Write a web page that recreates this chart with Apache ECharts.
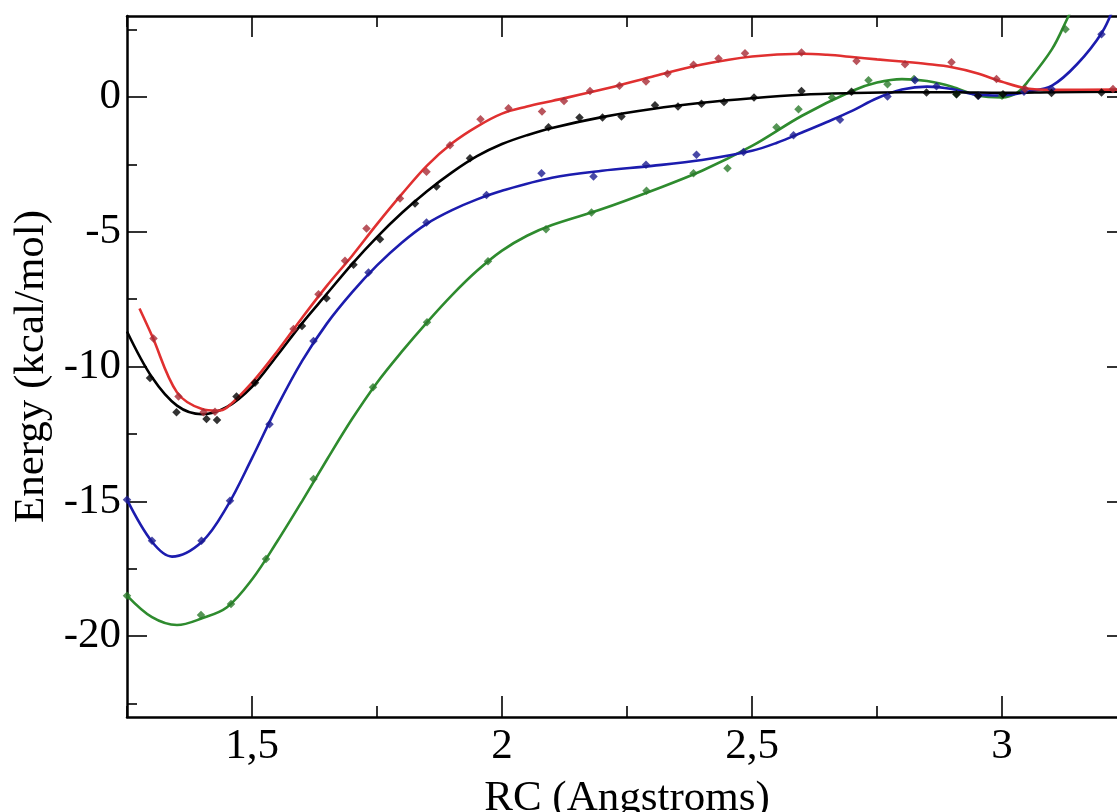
<!DOCTYPE html>
<html>
<head>
<meta charset="utf-8">
<script src="https://cdn.jsdelivr.net/npm/echarts@6/dist/echarts.min.js"></script>
<style>html,body{margin:0;padding:0;background:#fff;}#c{width:1117px;height:812px;}</style>
</head>
<body>
<div id="c"></div>
<script>
// ---- data ----
const xMajorTicks = [1.5, 2, 2.5, 3];
const xMinorTicks = [1.25, 1.75, 2.25, 2.75, 3.25];
const yMajorTicks = [-20, -15, -10, -5, 0];
const yMinorTicks = [-22.5, -17.5, -12.5, -7.5, -2.5, 2.5];

// fitted curves [RC, energy]
const blackCurve = [[1.25,-8.7],[1.30,-10.4],[1.35,-11.45],[1.40,-11.77],[1.45,-11.5],[1.50,-10.75],[1.55,-9.6],[1.60,-8.4],[1.65,-7.3],[1.70,-6.2],[1.75,-5.2],[1.80,-4.3],[1.85,-3.5],[1.90,-2.8],[1.95,-2.2],[2.00,-1.75],[2.05,-1.42],[2.10,-1.15],[2.20,-0.75],[2.30,-0.45],[2.40,-0.22],[2.50,-0.05],[2.60,0.08],[2.70,0.14],[2.80,0.17],[2.90,0.17],[3.00,0.15],[3.10,0.17],[3.25,0.2]];
const redCurve = [[1.275,-7.85],[1.30,-8.86],[1.35,-10.96],[1.40,-11.58],[1.43,-11.64],[1.45,-11.52],[1.50,-10.6],[1.55,-9.45],[1.60,-8.2],[1.65,-7.0],[1.70,-5.9],[1.75,-4.72],[1.80,-3.6],[1.85,-2.55],[1.90,-1.72],[1.95,-1.1],[2.00,-0.62],[2.05,-0.36],[2.10,-0.15],[2.20,0.27],[2.30,0.75],[2.40,1.2],[2.50,1.5],[2.60,1.6],[2.65,1.56],[2.70,1.48],[2.75,1.39],[2.80,1.31],[2.85,1.22],[2.90,1.1],[2.95,0.88],[3.00,0.56],[3.05,0.31],[3.10,0.26],[3.25,0.27]];
const blueCurve = [[1.25,-14.94],[1.30,-16.5],[1.34,-17.05],[1.40,-16.5],[1.45,-15.2],[1.50,-13.4],[1.55,-11.5],[1.60,-9.8],[1.65,-8.4],[1.70,-7.25],[1.75,-6.25],[1.80,-5.4],[1.85,-4.7],[1.90,-4.2],[1.95,-3.8],[2.00,-3.48],[2.10,-3.0],[2.20,-2.74],[2.30,-2.56],[2.40,-2.34],[2.50,-2.0],[2.55,-1.7],[2.60,-1.32],[2.65,-0.93],[2.70,-0.52],[2.75,-0.05],[2.80,0.27],[2.85,0.38],[2.90,0.29],[2.95,0.08],[3.00,0.05],[3.05,0.19],[3.10,0.42],[3.15,1.21],[3.20,2.39],[3.225,3.4]];
const greenCurve = [[1.25,-18.5],[1.30,-19.3],[1.35,-19.59],[1.40,-19.34],[1.45,-18.93],[1.50,-17.9],[1.55,-16.5],[1.60,-15.0],[1.65,-13.45],[1.70,-11.95],[1.75,-10.6],[1.80,-9.44],[1.85,-8.36],[1.90,-7.35],[1.95,-6.45],[2.00,-5.7],[2.05,-5.15],[2.10,-4.75],[2.20,-4.16],[2.30,-3.48],[2.40,-2.74],[2.50,-1.82],[2.60,-0.7],[2.70,0.22],[2.75,0.53],[2.80,0.66],[2.85,0.59],[2.90,0.38],[2.95,0.06],[3.00,-0.02],[3.03,0.15],[3.05,0.53],[3.10,1.77],[3.13,2.88],[3.145,3.5]];

// computed data points [RC, energy]
const blackPoints = [[1.296,-10.43],[1.349,-11.7],[1.409,-11.95],[1.43,-11.98],[1.469,-11.11],[1.506,-10.6],[1.6,-8.5],[1.649,-7.47],[1.703,-6.23],[1.756,-5.28],[1.826,-3.95],[1.869,-3.32],[1.936,-2.28],[2.093,-1.13],[2.155,-0.76],[2.201,-0.76],[2.239,-0.73],[2.306,-0.31],[2.352,-0.36],[2.399,-0.25],[2.444,-0.19],[2.504,-0.02],[2.599,0.22],[2.699,0.19],[2.849,0.16],[2.909,0.1],[2.952,0.04],[3.002,0.1],[3.099,0.14],[3.199,0.16]];
const redPoints = [[1.303,-8.96],[1.353,-11.11],[1.403,-11.7],[1.426,-11.68],[1.583,-8.61],[1.633,-7.32],[1.686,-6.08],[1.729,-4.88],[1.796,-3.77],[1.849,-2.78],[1.896,-1.79],[1.957,-0.83],[2.013,-0.42],[2.08,-0.54],[2.124,-0.15],[2.176,0.22],[2.235,0.41],[2.288,0.57],[2.331,0.86],[2.383,1.19],[2.433,1.42],[2.486,1.62],[2.599,1.65],[2.709,1.33],[2.806,1.21],[2.899,1.28],[2.989,0.66],[3.046,0.29],[3.222,0.29]];
const bluePoints = [[1.25,-14.94],[1.3,-16.46],[1.399,-16.46],[1.456,-14.98],[1.535,-12.14],[1.623,-9.05],[1.733,-6.51],[1.849,-4.66],[1.969,-3.64],[2.079,-2.83],[2.183,-2.95],[2.288,-2.52],[2.389,-2.15],[2.483,-2.04],[2.583,-1.42],[2.676,-0.85],[2.771,0.01],[2.826,0.62],[2.869,0.39],[2.953,0.04],[3.044,0.19],[3.099,0.29],[3.199,2.32]];
const greenPoints = [[1.25,-18.5],[1.398,-19.22],[1.458,-18.81],[1.528,-17.14],[1.623,-14.17],[1.742,-10.77],[1.85,-8.36],[1.972,-6.1],[2.088,-4.91],[2.179,-4.29],[2.289,-3.48],[2.383,-2.83],[2.451,-2.65],[2.549,-1.13],[2.593,-0.46],[2.66,-0.02],[2.733,0.62],[2.771,0.47],[2.824,0.66],[2.909,0.1],[3.0,0.04],[3.127,2.51]];

const xName = 'RC (Angstroms)';
const yName = 'Energy (kcal/mol)';

// ---- chart ----
const FONT = 'Liberation Serif';
const chart = echarts.init(document.getElementById('c'), null, {renderer: 'canvas'});
const XMIN = 1.25, XMAX = 3.25, YMIN = -23, YMAX = 3;
const lineStyleAxis = {color: '#000', width: 2.5};

function xAx(pos, ticks, len, showLine, labels, name) {
  return {
    type: 'value', position: pos, min: XMIN, max: XMAX,
    axisLine: {show: showLine, onZero: false, lineStyle: lineStyleAxis},
    axisTick: {show: true, inside: true, length: len, customValues: ticks, lineStyle: {color: '#000', width: 1.6}},
    axisLabel: labels ? {show: true, customValues: ticks, margin: 8, color: '#000', fontFamily: FONT, fontSize: 43,
      formatter: v => String(v).replace('.', ',')} : {show: false},
    splitLine: {show: false},
    name: name || '', nameLocation: 'middle', nameGap: 60,
    nameTextStyle: {color: '#000', fontFamily: FONT, fontSize: 43}
  };
}
function yAx(pos, ticks, len, showLine, labels, name) {
  return {
    type: 'value', position: pos, min: YMIN, max: YMAX,
    axisLine: {show: showLine, onZero: false, lineStyle: lineStyleAxis},
    axisTick: {show: true, inside: true, length: len, customValues: ticks, lineStyle: {color: '#000', width: 1.6}},
    axisLabel: labels ? {show: true, customValues: ticks, margin: 6, color: '#000', fontFamily: FONT, fontSize: 43} : {show: false},
    splitLine: {show: false},
    name: name || '', nameLocation: 'middle', nameGap: 73,
    nameTextStyle: {color: '#000', fontFamily: FONT, fontSize: 43}
  };
}

function curve(data, color) {
  return {type: 'line', data: data, smooth: 0.35, showSymbol: false, symbol: 'none',
    lineStyle: {color: color, width: 2.6}, itemStyle: {color: color}, clip: true, z: 2, silent: true};
}
function pts(data, color) {
  return {type: 'scatter', data: data, symbol: 'diamond', symbolSize: 8.5,
    itemStyle: {color: color}, clip: true, z: 3, silent: true};
}

chart.setOption({
  animation: false,
  backgroundColor: '#fff',
  grid: {left: 127, right: -10, top: 16, bottom: 95, containLabel: false, outerBoundsMode: 'none'},
  xAxis: [
    xAx('bottom', xMajorTicks, 21, true, true, xName),
    xAx('bottom', xMinorTicks, 11, false, false),
    xAx('top', xMajorTicks, 21, true, false),
    xAx('top', xMinorTicks, 11, false, false)
  ],
  yAxis: [
    yAx('left', yMajorTicks, 20, true, true, yName),
    yAx('left', yMinorTicks, 10, false, false),
    yAx('right', yMajorTicks, 20, true, false),
    yAx('right', yMinorTicks, 10, false, false)
  ],
  series: [
    curve(greenCurve, '#2e8b2e'),
    curve(blueCurve, '#1c1cae'),
    curve(blackCurve, '#000000'),
    curve(redCurve, '#e03030'),
    pts(greenPoints, '#2a7a2a'),
    pts(bluePoints, '#1a1a90'),
    pts(blackPoints, '#000000'),
    pts(redPoints, '#a82a34')
  ]
});
</script>
</body>
</html>
